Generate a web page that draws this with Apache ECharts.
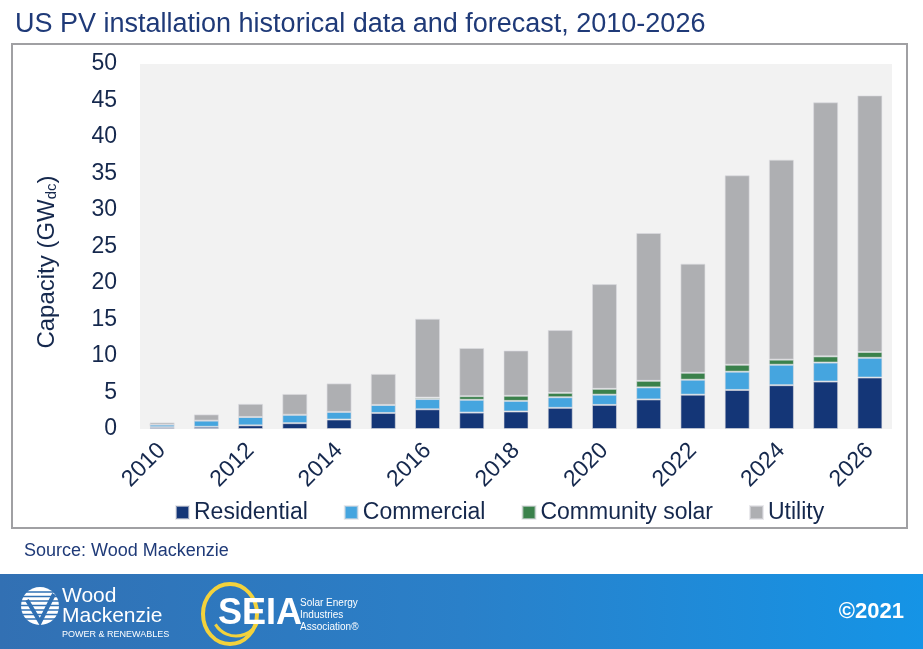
<!DOCTYPE html>
<html>
<head>
<meta charset="utf-8">
<script src="https://cdn.jsdelivr.net/npm/echarts@6/dist/echarts.min.js"></script>
<style>
html,body{margin:0;padding:0;background:#fff;}
#chart{width:923px;height:649px;}
</style>
</head>
<body>
<div id="chart"></div>
<script>
const years = ['2010','2011','2012','2013','2014','2015','2016','2017','2018','2019','2020','2021','2022','2023','2024','2025','2026'];
const residential = [0.25, 0.3, 0.5, 0.8, 1.3, 2.2, 2.7, 2.25, 2.4, 2.9, 3.3, 4.05, 4.7, 5.35, 6.0, 6.5, 7.05];
const commercial  = [0.35, 0.85, 1.15, 1.15, 1.05, 1.1, 1.4, 1.75, 1.45, 1.45, 1.4, 1.65, 2.05, 2.5, 2.8, 2.6, 2.7];
const community   = [0, 0, 0, 0, 0, 0, 0.2, 0.5, 0.7, 0.6, 0.8, 0.9, 0.95, 0.95, 0.7, 0.85, 0.8];
const utility     = [0.3, 0.85, 1.8, 2.85, 3.9, 4.25, 10.8, 6.6, 6.2, 8.6, 14.35, 20.25, 14.95, 25.95, 27.4, 34.8, 35.15];
const seriesNames = ['Residential','Commercial','Community solar','Utility'];
const yTicks = [0, 50, 5];

const colors = ['#143677', '#45a5df', '#3a814b', '#aeafb2'];
const textNavy = '#15284d';
const font = 'Liberation Sans, Arial, sans-serif';

const chart = echarts.init(document.getElementById('chart'), null, {renderer:'canvas'});
const dataSets = [residential, commercial, community, utility];

chart.setOption({
  animation: false,
  title: {
    text: 'US PV installation historical data and forecast, 2010-2026',
    left: 10, top: 6,
    textStyle: {fontFamily: font, fontSize: 27, fontWeight: 'normal', color: '#1f3a78'}
  },
  grid: {left: 140, right: 31, top: 64, bottom: 220, show: true, backgroundColor: '#f2f2f2', borderWidth: 0},
  legend: {
    data: seriesNames,
    left: 170, top: 496,
    icon: 'rect', itemWidth: 13, itemHeight: 13, itemGap: 36,
    textStyle: {fontFamily: font, fontSize: 23, color: textNavy}
  },
  xAxis: {
    type: 'category', data: years,
    axisLine: {show: false}, axisTick: {show: false},
    axisLabel: {interval: 1, rotate: 45, margin: 18, fontFamily: font, fontSize: 23, color: textNavy}
  },
  yAxis: {
    type: 'value', min: yTicks[0], max: yTicks[1], interval: yTicks[2],
    splitLine: {show: false}, axisLine: {show: false}, axisTick: {show: false},
    axisLabel: {margin: 23, fontFamily: font, fontSize: 23, color: textNavy}
  },
  series: seriesNames.map((n, i) => ({
    name: n, type: 'bar', stack: 'total', barWidth: 25,
    itemStyle: {color: colors[i], borderColor: 'rgba(220,220,225,0.6)', borderWidth: 1},
    data: dataSets[i]
  })),
  graphic: [
    {type: 'rect', shape: {x: 12, y: 44, width: 895, height: 484}, style: {fill: 'none', stroke: '#a0a0a3', lineWidth: 2}, z: -1, silent: true},
    {type: 'text', x: 47, y: 262, rotation: Math.PI/2, style: {
      text: 'Capacity (GW{sub|dc})', fontFamily: font, fontSize: 24, fill: textNavy, align: 'center', verticalAlign: 'middle',
      rich: {sub: {fontFamily: font, fontSize: 15, fill: textNavy, verticalAlign: 'bottom', padding: [10,0,0,0]}}
    }},
    {type: 'text', x: 24, y: 551, style: {text: 'Source: Wood Mackenzie', fontFamily: font, fontSize: 18, fill: '#1f3a78', verticalAlign: 'middle'}},
    {type: 'rect', shape: {x: 0, y: 574, width: 923, height: 75}, style: {
      fill: new echarts.graphic.LinearGradient(0, 0, 1, 0, [{offset: 0, color: '#3270b3'}, {offset: 0.5, color: '#2a80c9'}, {offset: 1, color: '#1594e6'}])
    }},
    // Wood Mackenzie logo
    {type: 'circle', shape: {cx: 40, cy: 606, r: 19}, style: {fill: '#ffffff'}},
    {type: 'group', children: [0,1,2,3,4,5,6].map(k => ({type: 'line', shape: {x1: 20, y1: 592 + k*4.5, x2: 60, y2: 592 + k*4.5}, style: {stroke: '#3070b3', lineWidth: 1.3}}))},
    {type: 'polyline', shape: {points: [[27,600],[40,622],[54,594]]}, style: {stroke: '#3070b3', lineWidth: 4, fill: 'none'}},
    {type: 'text', x: 62, y: 596, style: {text: 'Wood', fontFamily: 'Liberation Sans Narrow, Liberation Sans, sans-serif', fontSize: 21, fill: '#ffffff', verticalAlign: 'middle'}},
    {type: 'text', x: 62, y: 616, style: {text: 'Mackenzie', fontFamily: 'Liberation Sans Narrow, Liberation Sans, sans-serif', fontSize: 21, fill: '#ffffff', verticalAlign: 'middle'}},
    {type: 'text', x: 62, y: 635, style: {text: 'POWER & RENEWABLES', fontFamily: 'Liberation Sans Narrow, Liberation Sans, sans-serif', fontSize: 9, fill: '#ffffff', verticalAlign: 'middle'}},
    // SEIA logo
    {type: 'ellipse', shape: {cx: 230, cy: 614, rx: 27, ry: 30}, style: {fill: 'none', stroke: '#f3d23c', lineWidth: 4}},
    {type: 'arc', shape: {cx: 236, cy: 612, r: 24, startAngle: 0.4, endAngle: 2.6}, style: {stroke: '#f3d23c', lineWidth: 3, fill: 'none'}},
    {type: 'text', x: 218, y: 614, style: {text: 'SEIA', fontFamily: font, fontSize: 36, fontWeight: 'bold', fill: '#ffffff', verticalAlign: 'middle'}},
    {type: 'text', x: 300, y: 603, style: {text: 'Solar Energy', fontFamily: 'Liberation Sans Narrow, Liberation Sans, sans-serif', fontSize: 10, fill: '#ffffff', verticalAlign: 'middle'}},
    {type: 'text', x: 300, y: 615, style: {text: 'Industries', fontFamily: 'Liberation Sans Narrow, Liberation Sans, sans-serif', fontSize: 10, fill: '#ffffff', verticalAlign: 'middle'}},
    {type: 'text', x: 300, y: 627, style: {text: 'Association®', fontFamily: 'Liberation Sans Narrow, Liberation Sans, sans-serif', fontSize: 10, fill: '#ffffff', verticalAlign: 'middle'}},
    {type: 'text', x: 904, y: 612, style: {text: '©2021', fontFamily: font, fontSize: 22, fontWeight: 'bold', fill: '#ffffff', align: 'right', verticalAlign: 'middle'}}
  ]
});
</script>
</body>
</html>
